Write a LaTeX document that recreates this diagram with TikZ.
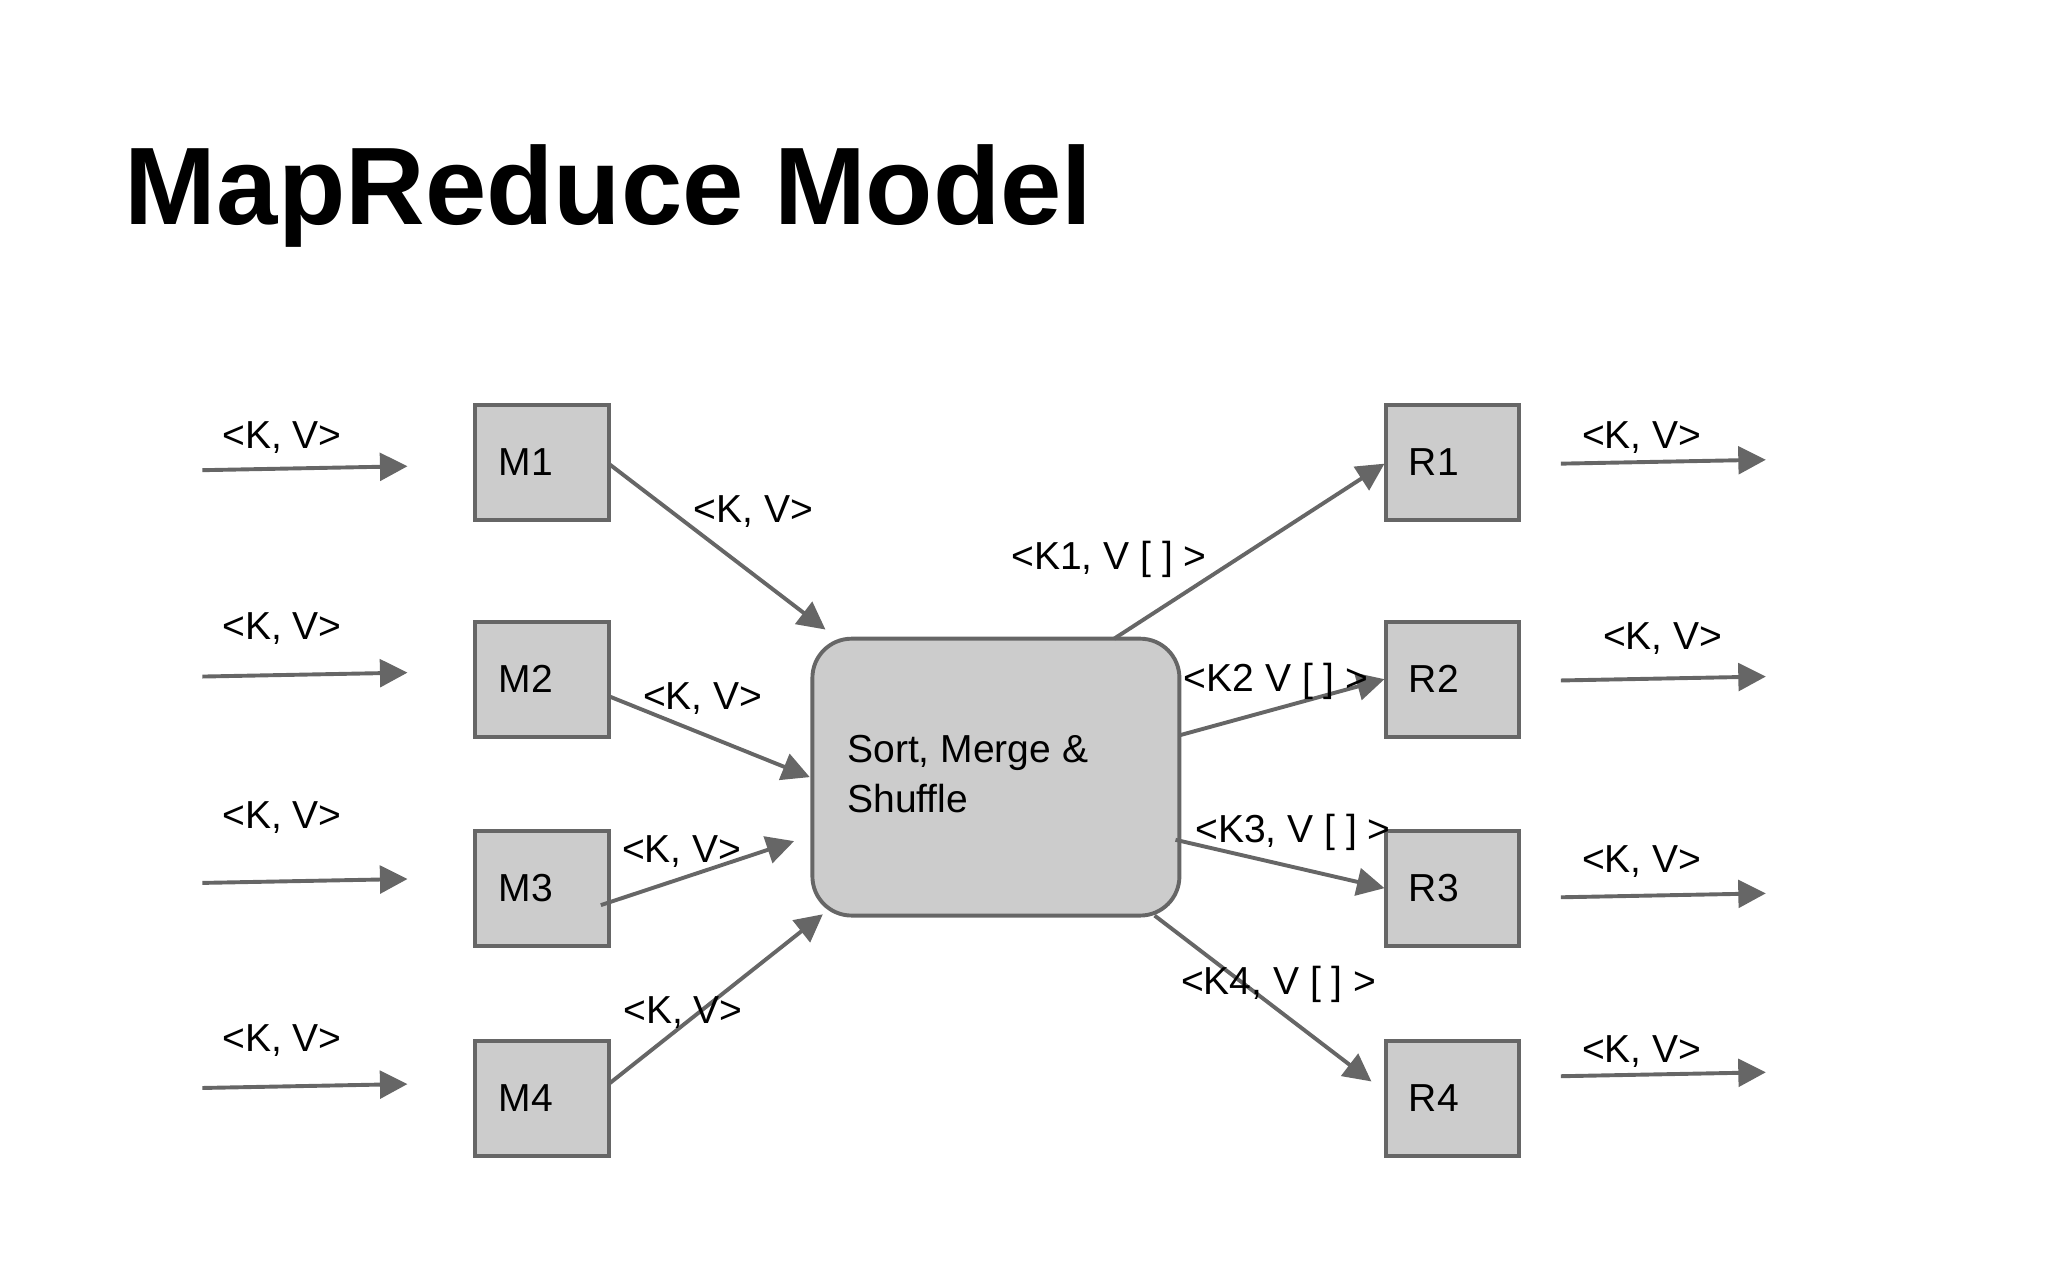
\documentclass[tikz,border=0pt]{standalone}
\usepackage{fontspec}
\setmainfont{Liberation Sans}
\usetikzlibrary{arrows.meta}
\definecolor{ln}{HTML}{666666}
\definecolor{bx}{HTML}{CCCCCC}
\begin{document}
\begin{tikzpicture}[x=0.01cm,y=-0.01cm,
  box/.style={draw=ln,fill=bx,line width=0.85pt,minimum width=102*0.01cm,minimum height=88*0.01cm,inner sep=0pt},
  lbl/.style={font=\fontsize{8.5pt}{10pt}\selectfont,inner sep=0pt},
  arr/.style={draw=ln,line width=0.85pt,-{Triangle[length=6pt,width=6pt]}}]
\useasboundingbox (0,0) rectangle (1568,980);
\node[anchor=base west,font=\fontsize{24pt}{28pt}\selectfont\bfseries,inner sep=0pt] (title) at (95,172) {MapReduce Model};
\foreach \n/\y in {1/354,2/520,3/680,4/841}{
  \node[box] (M\n) at (415,\y) {};
  \node[lbl,anchor=west] (Mt\n) at (381,\y) {M\n};
  \node[box] (R\n) at (1112,\y) {};
  \node[lbl,anchor=west] (Rt\n) at (1078,\y) {R\n};
}
\node[draw=ln,fill=bx,line width=0.85pt,rounded corners=0.3cm,minimum width=281*0.01cm,minimum height=212*0.01cm] (C) at (762.5,595) {};
\node[lbl,anchor=north west,align=left] (Ct) at (648,562) {Sort, Merge \&\\[1pt]Shuffle};
% inputs
\foreach \i/\ya/\yb/\ly in {1/360/357/335,2/518/515/481,3/676/673/626,4/833/830/797}{
  \coordinate (ia\i) at (155,\ya); \coordinate (ib\i) at (312,\yb);
  \draw[arr] (ia\i) -- (ib\i);
  \node[lbl] (il\i) at (216,\ly) {<K, V>};
}
% outputs
\foreach \i/\ya/\yb/\lx/\ly in {1/355/352/1257/335,2/521/518/1273/489,3/687/684/1257/660,4/824/821/1257/805}{
  \coordinate (oa\i) at (1195,\ya); \coordinate (ob\i) at (1352,\yb);
  \draw[arr] (oa\i) -- (ob\i);
  \node[lbl] (ol\i) at (\lx,\ly) {<K, V>};
}
% maps to center
\coordinate (m1a) at (466,355); \coordinate (m1b) at (632,482);
\coordinate (m2a) at (466,533); \coordinate (m2b) at (620,595);
\coordinate (m3a) at (460,693); \coordinate (m3b) at (608,644);
\coordinate (m4a) at (466,830); \coordinate (m4b) at (630,700);
\foreach \i in {1,...,4}{\draw[arr] (m\i a) -- (m\i b);}
\node[lbl] (ml1) at (577,392) {<K, V>};
\node[lbl] (ml2) at (538,535) {<K, V>};
\node[lbl] (ml3) at (522,652) {<K, V>};
\node[lbl] (ml4) at (523,775) {<K, V>};
% center to reducers
\coordinate (r1a) at (853,489); \coordinate (r1b) at (1060,355);
\coordinate (r2a) at (903,563); \coordinate (r2b) at (1060,520);
\coordinate (r3a) at (900,643); \coordinate (r3b) at (1060,680);
\coordinate (r4a) at (884,701); \coordinate (r4b) at (1050,828);
\foreach \i in {1,...,4}{\draw[arr] (r\i a) -- (r\i b);}
\node[lbl] (rl1) at (849,428) {<K1, V [ ] >};
\node[lbl] (rl2) at (977,522) {<K2 V [ ] >};
\node[lbl] (rl3) at (990,637) {<K3, V [ ] >};
\node[lbl] (rl4) at (979,754) {<K4, V [ ] >};
\end{tikzpicture}
\end{document}
